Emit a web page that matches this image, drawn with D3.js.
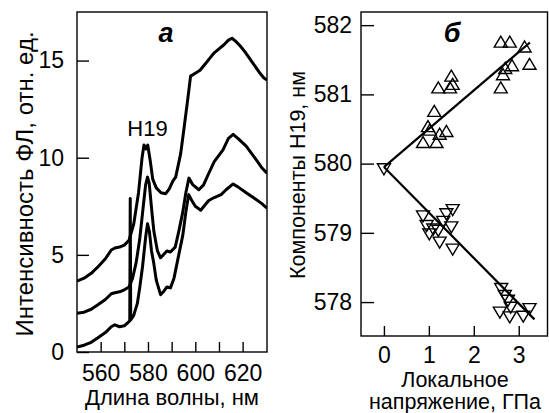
<!DOCTYPE html>
<html>
<head>
<meta charset="utf-8">
<script src="https://cdn.jsdelivr.net/npm/d3@7"></script>
<style>
  body { margin: 0; background: #fff; }
  svg { display: block; }
  text { font-family: "Liberation Sans", Arial, sans-serif; fill: #000; }
</style>
</head>
<body>
<div class="chart"></div>
<script>
// spectra (panel a): wavelength, nm / intensity, rel. units
var wlTop  = [550, 553, 556, 559, 562, 564.5, 566, 568, 570, 572, 574, 576, 577.5, 578.3, 579.2, 579.9, 581, 582, 583.5, 585.5, 587.5, 589, 590.5, 591.7, 593.8, 595, 596.8, 598, 600, 602, 604, 606, 608, 610, 612, 614, 615.5, 617, 619, 621, 623, 625, 627, 629, 630.3];
var intTop = [3.65, 3.8, 4.05, 4.4, 4.8, 5.25, 5.35, 5.4, 5.5, 5.75, 6.6, 8.2, 10.0, 10.65, 10.45, 10.65, 9.8, 8.9, 8.45, 8.2, 8.15, 8.4, 8.8, 9.0, 10.2, 11.3, 13.0, 14.2, 14.35, 14.5, 14.8, 15.1, 15.4, 15.6, 15.8, 16.05, 16.15, 16.0, 15.75, 15.45, 15.1, 14.75, 14.4, 14.1, 14.0];

var wlMid  = [550, 553, 556, 559, 562, 564.5, 566, 568, 570, 572, 573.5, 575, 576.5, 578, 579, 579.8, 580.5, 581.5, 582.5, 584, 585.3, 586.5, 588, 589.5, 591.5, 593, 594.7, 596, 597.3, 599, 601.5, 603.5, 605.7, 608, 611.7, 614, 616, 618, 621.5, 625.7, 628, 630.3];
var intMid = [2.0, 2.05, 2.2, 2.45, 2.7, 3.0, 3.05, 3.1, 3.2, 3.35, 3.8, 4.6, 5.8, 7.5, 8.6, 9.0, 8.7, 7.4, 6.2, 5.2, 4.85, 5.0, 5.2, 5.15, 5.4, 6.2, 7.2, 8.2, 8.95, 8.6, 8.35, 8.6, 9.2, 9.8, 10.4, 11.0, 11.2, 11.0, 10.6, 9.9, 9.5, 9.2];

var wlBot  = [550, 553, 556, 559, 562, 564.5, 566, 568, 570, 572.3, 572.5, 572.7, 574, 575.5, 576.5, 577.7, 579, 579.8, 580.6, 581.5, 582.4, 583.5, 585.3, 586.5, 588, 589.5, 591, 593, 594.7, 596, 597.2, 598.5, 600, 602.3, 604, 605.7, 608, 610.9, 613, 616, 618, 621.5, 625.7, 628, 630.3];
var intBot = [0.25, 0.35, 0.5, 0.75, 1.0, 1.3, 1.4, 1.3, 1.35, 1.6, 7.9, 1.65, 1.9, 2.5, 3.3, 4.4, 5.9, 6.6, 6.2, 5.2, 4.6, 3.7, 2.95, 3.1, 3.35, 3.3, 3.8, 5.0, 6.0, 7.2, 8.1, 7.8, 7.5, 7.3, 7.55, 7.8, 7.95, 8.1, 8.35, 8.65, 8.5, 8.2, 7.85, 7.65, 7.4];

var wlTicks = [560, 580, 600, 620];
var wlMinor = [570, 590, 610];
var intTicks = [0, 5, 10, 15];

// panel b: local stress, GPa / H19 component, nm
var upStress = [0.87, 0.98, 1.02, 1.12, 1.17, 1.24, 1.39, 1.21, 1.47, 1.53, 1.5, 2.6, 2.8, 3.13, 2.85, 3.24, 2.65, 2.7, 2.6];
var upWl     = [580.29, 580.52, 580.47, 580.74, 580.29, 580.41, 580.45, 581.08, 581.08, 581.13, 581.25, 581.74, 581.74, 581.67, 581.4, 581.42, 581.27, 581.36, 581.08];
var downStress = [0, 0.87, 0.95, 1.01, 1.1, 1.21, 1.24, 1.32, 1.39, 1.53, 1.5, 1.53, 2.61, 2.69, 2.76, 2.82, 2.58, 2.8, 3.1, 3.24];
var downWl     = [579.94, 579.26, 579.12, 579.0, 579.07, 579.05, 578.88, 579.18, 579.29, 579.35, 579.1, 578.78, 578.21, 578.11, 578.04, 577.94, 577.87, 577.8, 577.81, 577.92];
var fitUpStress = [0, 3.25];
var fitUpWl     = [579.95, 581.75];
var fitDownStress = [0, 3.35];
var fitDownWl     = [579.95, 577.75];

var stressTicks = [0, 1, 2, 3];
var compTicks = [578, 579, 580, 581, 582];

var svgWidth = 549, svgHeight = 413;

var svg = d3.select(".chart")
  .append("svg")
  .attr("width", svgWidth)
  .attr("height", svgHeight);

var tickFont = 23;

// ---------- panel a ----------
var pa = { left: 77, top: 12, right: 267, bottom: 352 };
var xA = d3.scaleLinear().domain([550, 630.3]).range([pa.left, pa.right]);
var yA = d3.scaleLinear().domain([0, 17.5]).range([pa.bottom, pa.top]);

var gA = svg.append("g");

gA.append("g")
  .attr("transform", `translate(0, ${pa.bottom})`)
  .call(d3.axisBottom(xA).tickValues(wlTicks.concat(wlMinor)).tickSizeInner(-10).tickSizeOuter(0).tickPadding(13)
    .tickFormat(d => wlTicks.indexOf(d) >= 0 ? d : ""))
  .call(g => g.select(".domain").remove());

gA.append("g")
  .attr("transform", `translate(${pa.left}, 0)`)
  .call(d3.axisLeft(yA).tickValues(intTicks).tickSizeInner(-12).tickSizeOuter(0).tickPadding(13))
  .call(g => g.select(".domain").remove());

var spectra = [[wlTop, intTop], [wlMid, intMid], [wlBot, intBot]];
var line = d3.line().x(d => xA(d[0])).y(d => yA(d[1]));

svg.append("clipPath").attr("id", "clipA").append("rect")
  .attr("x", pa.left).attr("y", pa.top)
  .attr("width", pa.right - pa.left).attr("height", pa.bottom - pa.top);

gA.append("g").attr("clip-path", "url(#clipA)")
  .selectAll("path")
  .data(spectra)
  .enter()
  .append("path")
  .attr("d", s => line(s[0].map((w, i) => [w, s[1][i]])))
  .attr("fill", "none")
  .attr("stroke", "#000")
  .attr("stroke-width", 3)
  .attr("stroke-linejoin", "round");

gA.append("rect")
  .attr("x", pa.left).attr("y", pa.top)
  .attr("width", pa.right - pa.left).attr("height", pa.bottom - pa.top)
  .attr("fill", "none").attr("stroke", "#000").attr("stroke-width", 1.4);

gA.append("text")
  .attr("x", xA(579.8)).attr("y", 136)
  .attr("text-anchor", "middle")
  .style("font-size", "22px")
  .text("H19");

gA.append("text")
  .attr("x", 166).attr("y", 42)
  .attr("text-anchor", "middle")
  .style("font-size", "27px").style("font-weight", "bold").style("font-style", "italic")
  .text("а");

gA.append("text")
  .attr("x", 172).attr("y", 405)
  .attr("text-anchor", "middle")
  .style("font-size", "22px")
  .text("Длина волны, нм");

gA.append("text")
  .attr("transform", "translate(33, 184) rotate(-90)")
  .attr("text-anchor", "middle")
  .style("font-size", "24px")
  .text("Интенсивность ФЛ, отн. ед.");

// ---------- panel b ----------
var pb = { left: 361, top: 12, right: 547.5, bottom: 336 };
var xB = d3.scaleLinear().domain([-0.51, 3.64]).range([pb.left, pb.right]);
var yB = d3.scaleLinear().domain([577.51, 582.19]).range([pb.bottom, pb.top]);

var gB = svg.append("g");

gB.append("g")
  .attr("transform", `translate(0, ${pb.bottom})`)
  .call(d3.axisBottom(xB).tickValues(stressTicks).tickSizeInner(-10).tickSizeOuter(0).tickPadding(11)
    .tickFormat(d3.format("d")))
  .call(g => g.select(".domain").remove());

gB.append("g")
  .attr("transform", `translate(${pb.left}, 0)`)
  .call(d3.axisLeft(yB).tickValues(compTicks).tickSizeInner(-13).tickSizeOuter(0).tickPadding(9)
    .tickFormat(d3.format("d")))
  .call(g => g.select(".domain").remove());

svg.selectAll(".tick text").style("font-size", tickFont + "px").attr("font-family", null);
svg.selectAll(".tick line").attr("stroke-width", 1.4);

var fitLine = d3.line().x(d => xB(d[0])).y(d => yB(d[1]));
[[fitUpStress, fitUpWl], [fitDownStress, fitDownWl]].forEach(function(f) {
  gB.append("path")
    .attr("d", fitLine(f[0].map((v, i) => [v, f[1][i]])))
    .attr("fill", "none")
    .attr("stroke", "#000")
    .attr("stroke-width", 2.2);
});

var triUp = "M0,-7L6.5,4L-6.5,4Z";
var triDown = "M0,7L6.5,-4L-6.5,-4Z";

gB.selectAll(".up")
  .data(upStress.map((v, i) => [v, upWl[i]]))
  .enter()
  .append("path")
  .attr("class", "up")
  .attr("d", triUp)
  .attr("transform", d => `translate(${xB(d[0])}, ${yB(d[1])})`)
  .attr("fill", "none").attr("stroke", "#000").attr("stroke-width", 1.4);

gB.selectAll(".down")
  .data(downStress.map((v, i) => [v, downWl[i]]))
  .enter()
  .append("path")
  .attr("class", "down")
  .attr("d", triDown)
  .attr("transform", d => `translate(${xB(d[0])}, ${yB(d[1])})`)
  .attr("fill", "none").attr("stroke", "#000").attr("stroke-width", 1.4);

gB.append("rect")
  .attr("x", pb.left).attr("y", pb.top)
  .attr("width", pb.right - pb.left).attr("height", pb.bottom - pb.top)
  .attr("fill", "none").attr("stroke", "#000").attr("stroke-width", 1.4);

gB.append("text")
  .attr("x", 452).attr("y", 42)
  .attr("text-anchor", "middle")
  .style("font-size", "27px").style("font-weight", "bold").style("font-style", "italic")
  .text("б");

gB.append("text")
  .attr("x", 455).attr("y", 387)
  .attr("text-anchor", "middle")
  .style("font-size", "21.5px")
  .text("Локальное");

gB.append("text")
  .attr("x", 455).attr("y", 409)
  .attr("text-anchor", "middle")
  .style("font-size", "21.5px")
  .text("напряжение, ГПа");

gB.append("text")
  .attr("transform", "translate(305, 175) rotate(-90)")
  .attr("text-anchor", "middle")
  .style("font-size", "21.5px")
  .text("Компоненты H19, нм");
</script>
</body>
</html>
